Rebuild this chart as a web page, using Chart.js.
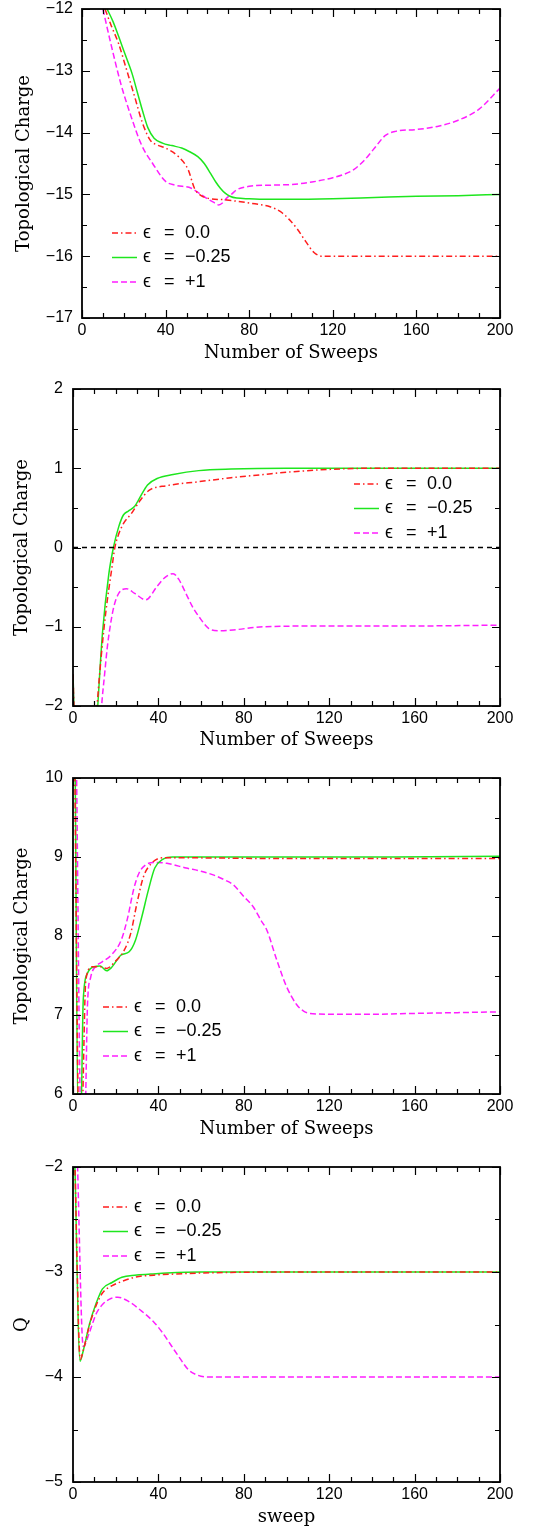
<!DOCTYPE html>
<html>
<head>
<meta charset="utf-8">
<script src="https://cdn.jsdelivr.net/npm/chart.js@4.4.1/dist/chart.umd.min.js"></script>
<style>
  html, body { margin: 0; padding: 0; background: #fff; }
  .panel { position: absolute; left: 0; width: 542px; }
  canvas { display: block; }
</style>
</head>
<body>
<div class="panel" style="top:0"><canvas id="chart-p1" width="542" height="380"></canvas></div>
<div class="panel" style="top:380px"><canvas id="chart-p2" width="542" height="380"></canvas></div>
<div class="panel" style="top:760px"><canvas id="chart-p3" width="542" height="380"></canvas></div>
<div class="panel" style="top:1140px"><canvas id="chart-p4" width="542" height="388"></canvas></div>
<script>
// legend values (epsilon)
const epsLabels = ['0.0', '\u22120.25', '+1'];

// panel 1
const p1RedX = [11, 14, 17.5, 21.3, 25.2, 29, 32.8, 36, 40, 46.2, 50.8, 53.8, 57, 60, 69.2, 80, 90, 95, 99, 103, 107, 111, 115, 120, 160, 200];
const p1RedY = [-12, -12.27, -12.56, -12.98, -13.42, -13.85, -14.13, -14.2, -14.25, -14.39, -14.6, -14.9, -15.02, -15.06, -15.09, -15.14, -15.2, -15.28, -15.4, -15.56, -15.76, -15.94, -16.0, -16.0, -16.0, -16.0];
const p1GreenX = [12, 14.8, 17.6, 20.8, 24, 26.5, 29, 31.5, 34.5, 38.5, 43, 47.7, 51.5, 55.4, 58.5, 61.5, 64, 66.2, 68.5, 70.8, 74, 80, 90, 100, 120, 140, 160, 180, 200];
const p1GreenY = [-12, -12.2, -12.45, -12.75, -13.05, -13.35, -13.65, -13.92, -14.09, -14.17, -14.21, -14.25, -14.31, -14.39, -14.5, -14.66, -14.8, -14.9, -14.98, -15.03, -15.06, -15.07, -15.08, -15.08, -15.07, -15.05, -15.03, -15.02, -15.0];
const p1MagX = [10, 13.8, 18.5, 23.1, 28.5, 33.8, 40, 44.6, 52.3, 56.9, 60, 63.1, 65.4, 67.5, 69.2, 71.5, 73.8, 80, 90.8, 100, 110, 120, 125, 130, 135, 140, 145, 150, 160, 170, 180, 190, 200];
const p1MagY = [-12, -12.56, -13.2, -13.7, -14.2, -14.5, -14.79, -14.85, -14.9, -15.0, -15.07, -15.13, -15.17, -15.13, -15.06, -15.0, -14.93, -14.87, -14.85, -14.84, -14.8, -14.73, -14.68, -14.6, -14.45, -14.25, -14.05, -13.98, -13.95, -13.9, -13.8, -13.62, -13.28];

// panel 2
const p2RedX = [0, 1, 10.5, 11.3, 13.3, 15.3, 18.3, 19.6, 21, 23.6, 27.4, 31.1, 35.6, 43.9, 58.9, 74, 89, 100, 120, 140, 200];
const p2RedY = [-1.6, -2.4, -2.36, -2.0, -1.35, -0.83, -0.24, 0.0, 0.14, 0.3, 0.43, 0.58, 0.72, 0.78, 0.83, 0.88, 0.92, 0.95, 0.985, 1.0, 1.0];
const p2GreenX = [0, 1, 10.8, 11.6, 13.8, 16.8, 19.1, 21.4, 23.6, 25.9, 28.9, 31.1, 34.9, 39.4, 46.9, 58.9, 74, 100, 200];
const p2GreenY = [-1.6, -2.4, -2.36, -2.0, -1.08, -0.33, 0.02, 0.26, 0.41, 0.46, 0.52, 0.62, 0.79, 0.87, 0.92, 0.97, 0.99, 1.0, 1.0];
const p2MagX = [0, 0.8, 12.5, 13.4, 14.8, 16.1, 17.5, 19.1, 21.4, 25.1, 28.9, 34.1, 39.4, 43, 46.9, 49.5, 52.9, 56, 58.9, 63.5, 68, 75, 89, 120, 160, 200];
const p2MagY = [-1.6, -2.3, -2.4, -2.0, -1.6, -1.25, -0.98, -0.75, -0.58, -0.52, -0.58, -0.66, -0.49, -0.38, -0.33, -0.4, -0.58, -0.75, -0.87, -1.02, -1.05, -1.04, -1.0, -0.99, -0.99, -0.98];
const p2ZeroX = [0, 200];
const p2ZeroY = [0, 0];

// panel 3
const p3RedX = [0.8, 2.8, 4.0, 6.0, 9, 12.8, 15.8, 19.5, 24, 27, 30, 33, 36.8, 42, 50, 100, 150, 200];
const p3RedY = [10.2, 5.6, 5.6, 7.44, 7.61, 7.61, 7.59, 7.67, 7.82, 8.03, 8.42, 8.75, 8.92, 8.99, 8.99, 8.98, 8.98, 8.98];
const p3GreenX = [1.0, 2.4, 3.6, 4.8, 6.8, 9.8, 12.8, 15.8, 18, 22.6, 26.3, 29.3, 32.3, 35.3, 38.3, 42, 46.6, 60, 100, 150, 200];
const p3GreenY = [10.2, 5.6, 5.6, 7.19, 7.53, 7.61, 7.62, 7.56, 7.6, 7.76, 7.8, 7.95, 8.25, 8.58, 8.86, 8.97, 9.0, 9.0, 9.0, 9.0, 9.01];
const p3MagX = [1.6, 3.8, 5.5, 6.8, 8.3, 10.5, 13.5, 18, 22.6, 25.5, 28.5, 31, 34, 38, 44, 53, 60, 66, 71, 75, 80, 84.4, 88, 90.7, 95.4, 100, 104.8, 108, 111, 120, 140, 160, 180, 200];
const p3MagY = [10.2, 5.6, 5.6, 7.14, 7.48, 7.61, 7.67, 7.76, 7.95, 8.22, 8.6, 8.8, 8.9, 8.93, 8.92, 8.86, 8.82, 8.77, 8.71, 8.65, 8.5, 8.37, 8.2, 8.08, 7.7, 7.36, 7.13, 7.05, 7.02, 7.01, 7.01, 7.02, 7.03, 7.04];

// panel 4
const p4RedX = [0.8, 3.4, 4.9, 7.8, 10.8, 13.8, 18.3, 22.9, 28.9, 37.9, 47, 60, 100, 200];
const p4RedY = [-1.9, -3.83, -3.74, -3.5, -3.32, -3.2, -3.13, -3.09, -3.05, -3.03, -3.02, -3.01, -3.0, -3.0];
const p4GreenX = [0.8, 3.3, 4.8, 7.8, 10.8, 13.8, 18.3, 22.9, 28.9, 36.4, 43.9, 60, 100, 200];
const p4GreenY = [-1.9, -3.85, -3.75, -3.49, -3.3, -3.16, -3.1, -3.05, -3.03, -3.02, -3.01, -3.0, -3.0, -3.0];
const p4MagX = [2.0, 4.8, 7.8, 10.8, 13.8, 18, 21, 26, 32, 38, 42, 46, 50, 54, 58, 63, 100, 200];
const p4MagY = [-1.9, -3.71, -3.57, -3.4, -3.31, -3.25, -3.24, -3.28, -3.37, -3.48, -3.58, -3.7, -3.82, -3.93, -3.98, -4.0, -4.0, -4.0];

const RED = 'rgb(255,30,30)';
const GREEN = 'rgb(30,230,30)';
const MAGENTA = 'rgb(255,30,255)';

const toPoints = (xs, ys) => xs.map((x, i) => ({ x: x, y: ys[i] }));

const curve = (label, xs, ys, color, dash) => ({
    label: label,
    data: toPoints(xs, ys),
    borderColor: color,
    borderWidth: 1.5,
    borderDash: dash,
    pointRadius: 0,
    fill: false,
    cubicInterpolationMode: 'monotone',
    clip: 0
});

const minus = (v) => v < 0 ? '\u2212' + Math.abs(v) : String(v);

// frame with inward ticks on all four sides
const frameTicks = {
    id: 'frameTicks',
    afterDraw(chart) {
        const { ctx, chartArea: a, scales: { x, y } } = chart;
        const isMajor = (v, step) => Math.abs(v / step - Math.round(v / step)) < 1e-6;
        ctx.save();
        ctx.strokeStyle = '#000';
        ctx.lineWidth = 1.2;
        ctx.beginPath();
        for (let v = x.min; v <= x.max + 1e-9; v += 10) {
            const px = Math.round(x.getPixelForValue(v)) + 0.5;
            const len = isMajor(v, 40) ? 8 : 5;
            ctx.moveTo(px, a.bottom); ctx.lineTo(px, a.bottom - len);
            ctx.moveTo(px, a.top); ctx.lineTo(px, a.top + len);
        }
        for (let v = y.min; v <= y.max + 1e-9; v += 0.5) {
            const py = Math.round(y.getPixelForValue(v)) + 0.5;
            const len = isMajor(v, 1) ? 8 : 5;
            ctx.moveTo(a.left, py); ctx.lineTo(a.left + len, py);
            ctx.moveTo(a.right, py); ctx.lineTo(a.right - len, py);
        }
        ctx.stroke();
        ctx.lineWidth = 1.8;
        ctx.strokeRect(a.left, a.top, a.right - a.left, a.bottom - a.top);
        ctx.restore();
    }
};

// legend drawn inside the plot area
const epsLegend = {
    id: 'epsLegend',
    afterDatasetsDraw(chart, args, opts) {
        const { ctx, chartArea: a } = chart;
        const x0 = a.left + opts.dx;
        let row = 0;
        chart.data.datasets.forEach((ds) => {
            if (!ds.label) return;
            const yy = a.top + opts.dy + row * 24.5;
            row++;
            ctx.save();
            ctx.strokeStyle = ds.borderColor;
            ctx.lineWidth = ds.borderWidth;
            ctx.setLineDash(ds.borderDash || []);
            ctx.beginPath();
            ctx.moveTo(x0, yy);
            ctx.lineTo(x0 + 25, yy);
            ctx.stroke();
            ctx.setLineDash([]);
            ctx.fillStyle = '#000';
            ctx.font = '18px "Liberation Sans", "DejaVu Sans", sans-serif';
            ctx.textBaseline = 'middle';
            ctx.fillText('\u03f5', x0 + 31, yy);
            ctx.fillText('=', x0 + 52, yy);
            ctx.fillText(ds.label, x0 + 73, yy);
            ctx.restore();
        });
    }
};

const makePanel = (id, p) => {
    const ctx = document.getElementById(id).getContext('2d');
    return new Chart(ctx, {
        type: 'line',
        data: { datasets: p.datasets },
        plugins: [frameTicks, epsLegend],
        options: {
            responsive: false,
            animation: false,
            events: [],
            layout: { padding: { left: 0, right: 42, top: p.top, bottom: 0 } },
            plugins: {
                legend: { display: false },
                tooltip: { enabled: false },
                epsLegend: { dx: p.legendDx, dy: p.legendDy }
            },
            scales: {
                x: {
                    type: 'linear',
                    min: 0,
                    max: 200,
                    grid: { display: false, drawTicks: false },
                    border: { display: false },
                    ticks: {
                        stepSize: 40,
                        padding: 5,
                        maxRotation: 0,
                        color: '#000',
                        font: { family: '"Liberation Sans", sans-serif', size: 16, lineHeight: 1 }
                    },
                    title: {
                        display: true,
                        text: p.xTitle,
                        color: '#000',
                        padding: { top: 0, bottom: p.xTitlePad },
                        font: { family: '"DejaVu Serif", serif', size: 18 }
                    },
                    afterFit: (s) => {
                        s.height = p.xAxisH;
                        s.paddingLeft = 0;
                        s.paddingRight = 0;
                    }
                },
                y: {
                    type: 'linear',
                    min: p.yMin,
                    max: p.yMax,
                    grid: { display: false, drawTicks: false },
                    border: { display: false },
                    ticks: {
                        stepSize: 1,
                        padding: p.yTickPad,
                        color: '#000',
                        font: { family: '"Liberation Sans", sans-serif', size: 16, lineHeight: 1 },
                        callback: (v) => minus(v)
                    },
                    title: {
                        display: true,
                        text: p.yTitle,
                        color: '#000',
                        padding: { top: p.yTitlePad, bottom: 0 },
                        font: { family: '"DejaVu Serif", serif', size: 18 }
                    },
                    afterFit: (s) => {
                        s.width = p.left;
                        s.paddingTop = 0;
                        s.paddingBottom = 0;
                    }
                }
            }
        }
    });
};

document.addEventListener('DOMContentLoaded', () => {
    makePanel('chart-p1', {
        top: 9, left: 82, xAxisH: 62, yMin: -17, yMax: -12,
        xTitle: 'Number of Sweeps', yTitle: 'Topological Charge',
        xTitlePad: 16, yTitlePad: 14, yTickPad: 9,
        legendDx: 30, legendDy: 224,
        datasets: [
            curve(epsLabels[0], p1RedX, p1RedY, RED, [6, 3, 1.5, 3]),
            curve(epsLabels[1], p1GreenX, p1GreenY, GREEN, []),
            curve(epsLabels[2], p1MagX, p1MagY, MAGENTA, [6, 3])
        ]
    });
    const zero = curve('', p2ZeroX, p2ZeroY, '#000', [5, 4]);
    zero.borderWidth = 1.4;
    zero.cubicInterpolationMode = 'default';
    makePanel('chart-p2', {
        top: 9, left: 73, xAxisH: 54, yMin: -2, yMax: 2,
        xTitle: 'Number of Sweeps', yTitle: 'Topological Charge',
        xTitlePad: 9, yTitlePad: 12, yTickPad: 10,
        legendDx: 281, legendDy: 95,
        datasets: [
            zero,
            curve(epsLabels[0], p2RedX, p2RedY, RED, [6, 3, 1.5, 3]),
            curve(epsLabels[1], p2GreenX, p2GreenY, GREEN, []),
            curve(epsLabels[2], p2MagX, p2MagY, MAGENTA, [6, 3])
        ]
    });
    makePanel('chart-p3', {
        top: 18, left: 73, xAxisH: 46, yMin: 6, yMax: 10,
        xTitle: 'Number of Sweeps', yTitle: 'Topological Charge',
        xTitlePad: 0, yTitlePad: 12, yTickPad: 10,
        legendDx: 30, legendDy: 229,
        datasets: [
            curve(epsLabels[0], p3RedX, p3RedY, RED, [6, 3, 1.5, 3]),
            curve(epsLabels[1], p3GreenX, p3GreenY, GREEN, []),
            curve(epsLabels[2], p3MagX, p3MagY, MAGENTA, [6, 3])
        ]
    });
    makePanel('chart-p4', {
        top: 27, left: 73, xAxisH: 46, yMin: -5, yMax: -2,
        xTitle: 'sweep', yTitle: 'Q',
        xTitlePad: 0, yTitlePad: 12, yTickPad: 10,
        legendDx: 30, legendDy: 40,
        datasets: [
            curve(epsLabels[0], p4RedX, p4RedY, RED, [6, 3, 1.5, 3]),
            curve(epsLabels[1], p4GreenX, p4GreenY, GREEN, []),
            curve(epsLabels[2], p4MagX, p4MagY, MAGENTA, [6, 3])
        ]
    });
});
</script>
</body>
</html>
